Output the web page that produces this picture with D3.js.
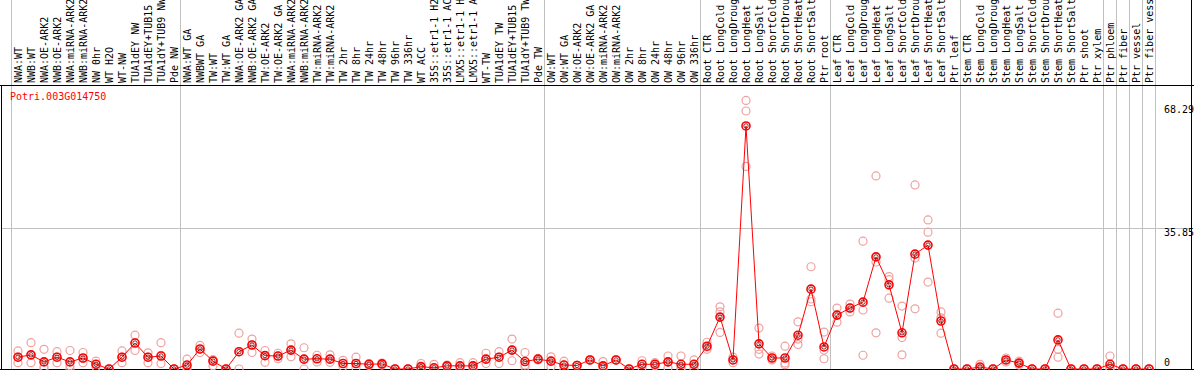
<!DOCTYPE html>
<html><head><meta charset="utf-8">
<script src="https://cdn.jsdelivr.net/npm/d3@7"></script>
<style>
body{margin:0;background:#fff}
svg{display:block}
text{font-family:"DejaVu Sans Mono",monospace;font-size:10px}
</style>
</head><body>
<svg id="chart" width="1194" height="370"></svg>
<script>
const categories = [
"NWA:WT","NWB:WT","NWA:OE-ARK2","NWB:OE-ARK2","NWA:miRNA-ARK2","NWB:miRNA-ARK2","NW 0hr","WT H2O","WT-NW","TUA1dEY NW","TUA1dEY+TUB15","TUA1dY+TUB9 NW","Pde NW",
"NWA:WT GA","NWBWT GA","TW:WT","TW:WT GA","NWA:OE-ARK2 GA","NWB:OE-ARK2 GA","TW:OE-ARK2","TW:OE-ARK2 GA","NWA:miRNA-ARK2","NWB:miRNA-ARK2","TW:miRNA-ARK2","TW:miRNA-ARK2","TW 2hr","TW 8hr","TW 24hr","TW 48hr","TW 96hr","TW 336hr","WT ACC","35S::etr1-1 H2","35S::etr1-1 AC","LMX5::etr1-1 H","LMX5::etr1-1 A","WT-TW","TUA1dEY TW","TUA1dEY+TUB15","TUA1dY+TUB9 TW","Pde TW",
"OW:WT","OW:WT GA","OW:OE-ARK2","OW:OE-ARK2 GA","OW:miRNA-ARK2","OW:miRNA-ARK2","OW 2hr","OW 8hr","OW 24hr","OW 48hr","OW 96hr","OW 336hr",
"Root CTR","Root LongCold","Root LongDroug","Root LongHeat","Root LongSalt","Root ShortCold","Root ShortDrou","Root ShortHeat","Root ShortSalt","Ptr root",
"Leaf CTR","Leaf LongCold","Leaf LongDroug","Leaf LongHeat","Leaf LongSalt","Leaf ShortCold","Leaf ShortDrou","Leaf ShortHeat","Leaf ShortSalt","Ptr leaf",
"Stem CTR","Stem LongCold","Stem LongDroug","Stem LongHeat","Stem LongSalt","Stem ShortCold","Stem ShortDrou","Stem ShortHeat","Stem ShortSalt","Ptr shoot","Ptr xylem",
"Ptr phloem","Ptr fiber","Ptr vessel","Ptr fiber vess"
];
const means = [
3.0,3.6,1.8,3.0,1.8,2.8,1.2,0,3.0,6.6,3.0,3.3,0,
1.0,5.1,2.0,0,4.4,6.1,3.4,3.3,4.8,2.5,2.6,2.5,1.4,1.4,1.2,1.3,0,0,0.6,0.3,0.8,0.8,0.8,2.5,3.0,4.8,1.9,2.5,
2.0,1.0,0.9,2.3,0.8,2.3,0,1.2,1.2,1.8,1.2,1.2,
5.8,13.2,2.3,61.8,6.4,2.8,2.8,8.6,20.3,5.6,
13.7,15.5,17.0,28.5,21.4,9.2,29.2,31.5,12.2,0,
0,0.5,0,2.3,1.5,0,0,7.4,0,0,0,
1.2,0,0,0
];
const rep1 = [
4.6,6.7,5.0,4.4,4.7,4.2,2.0,0,4.6,8.6,4.1,6.7,0,
2.5,6.0,2.3,0,9.1,7.6,4.7,4.0,6.4,5.4,3.5,3.6,2.2,3.0,1.4,1.5,0,0,1.4,1.2,1.0,1.6,1.6,4.0,4.4,7.6,4.2,2.7,
3.1,2.0,0.9,2.4,1.9,2.3,0,2.1,1.6,3.3,3.3,2.3,
6.8,15.8,3.0,68.29,10.4,3.3,5.8,12.0,26.0,9.4,
15.5,16.5,32.5,49.1,22.7,16.0,46.8,37.9,14.5,0,
0,1.2,0,2.8,2.0,0,0,14.2,0,0,0,
3.3,0,0,0
];
const rep2 = [
3.0,3.6,0.6,3.0,0.8,2.7,1.2,0,3.0,6.7,3.0,3.5,0,
0.5,5.0,2.3,0,4.4,6.1,3.4,3.3,4.8,2.5,2.6,2.5,1.4,1.4,1.2,1.3,0,0,0.5,0.3,0.8,0.8,0.8,2.5,3.0,4.8,1.0,2.5,
2.0,1.0,0.9,2.3,0.6,2.3,0,1.2,1.2,1.8,0.3,1.2,
5.6,14.5,2.3,65.6,5.0,2.8,1.5,7.6,17.8,4.8,
13.7,15.5,15.0,27.2,23.5,8.0,28.2,34.8,13.0,0,
0,0.3,0,2.3,1.5,0,0,5.0,0,0,0,
0.3,0,0,0
];
const rep3 = [
1.6,1.6,0,1.6,0,1.6,0.5,0,1.6,4.7,1.6,1.4,0,
0,4.2,0.8,0,0,4.2,1.7,2.6,3.1,0,1.8,1.7,0.6,0.3,0.9,1.0,0,0,0,0,0.6,0.1,0.2,1.4,1.4,2.1,0.5,2.3,
0.6,0,0.9,2.2,0,2.3,0,0.3,0.8,0.3,0,0.1,
5.0,9.3,1.6,51.5,3.8,2.3,1.1,6.2,17.1,2.6,
11.9,14.5,3.5,9.2,18.0,3.6,15.3,22.1,9.1,0,
0,0,0,1.8,1.0,0,0,3.0,0,0,0,
0,0,0,0
];
const groupEnds = [0,13,41,53,63,73,84,85,86,87,88];
const yTickValues = [0, 35.85];
const yMaxValue = 71.70;
const maxLabel = "68.29";
const geneId = "Potri.003G014750";

const svg = d3.select("#chart");
const W = 1194;
const plotTop = 85, plotBottom = 369;
const idx = categories.map((d,i)=>i);
const x = d3.scaleBand().domain(idx).range([11, 11 + 13*categories.length]).padding(0);
const cx = i => x(i) + x.bandwidth()/2 + 0.5;
const y = d3.scaleLinear().domain([0, yMaxValue]).range([plotBottom, plotBottom - 282]);

// group separators (full height)
svg.append("g").selectAll("line").data(groupEnds).join("line")
  .attr("x1", d => x(d) !== undefined ? x(d)+0.5 : x(categories.length-1)+x.bandwidth()+0.5)
  .attr("x2", d => x(d) !== undefined ? x(d)+0.5 : x(categories.length-1)+x.bandwidth()+0.5)
  .attr("y1", 0).attr("y2", plotBottom)
  .attr("stroke", "#c0c0c0").attr("stroke-width", 1);

// mid gridline
svg.append("line").attr("x1", 2).attr("x2", 1191)
  .attr("y1", Math.round(y(35.85))+0.5).attr("y2", Math.round(y(35.85))+0.5)
  .attr("stroke", "#c0c0c0");

// frame
svg.append("line").attr("x1",0).attr("x2",W).attr("y1",plotTop+0.5).attr("y2",plotTop+0.5).attr("stroke","#000");
svg.append("line").attr("x1",0).attr("x2",W).attr("y1",plotBottom+0.5).attr("y2",plotBottom+0.5).attr("stroke","#000");
svg.append("line").attr("x1",1.5).attr("x2",1.5).attr("y1",plotTop).attr("y2",plotBottom+1).attr("stroke","#000");
svg.append("line").attr("x1",1191.5).attr("x2",1191.5).attr("y1",0).attr("y2",plotBottom+1).attr("stroke","#000");

// category labels
svg.append("g").selectAll("text").data(categories).join("text")
  .attr("transform", (d,i) => `translate(${cx(i)+3.5},83) rotate(-90)`)
  .attr("fill", "#000")
  .text(d => d);

// y labels
svg.append("text").attr("x",1164).attr("y",113).text(maxLabel);
svg.append("text").attr("x",1164).attr("y",Math.round(y(35.85))+8).text("35.85");
svg.append("text").attr("x",1164).attr("y",366).text("0");

// gene id
svg.append("text").attr("x",10).attr("y",100).attr("fill","#ff0000").text(geneId);

// replicates
const reps = [rep1, rep2, rep3];
const g = svg.append("g");
reps.forEach(r => {
  g.append("g").selectAll("circle").data(r).join("circle")
    .attr("cx", (d,i) => cx(i)).attr("cy", d => y(d)).attr("r", 4)
    .attr("fill", "none").attr("stroke", "#f0a0a0").attr("stroke-width", 1.2);
});

// mean line
svg.append("path").datum(means)
  .attr("d", d3.line().x((d,i)=>cx(i)).y(d=>y(d)))
  .attr("fill","none").attr("stroke","#ff0000").attr("stroke-width",1);

svg.append("g").selectAll("circle").data(means).join("circle")
  .attr("cx", (d,i) => cx(i)).attr("cy", d => y(d)).attr("r", 4)
  .attr("fill", "none").attr("stroke", "#ff0000").attr("stroke-width", 1.6);
svg.append("g").selectAll("circle").data(means).join("circle")
  .attr("cx", (d,i) => cx(i)).attr("cy", d => y(d)).attr("r", 2.2)
  .attr("fill", "none").attr("stroke", "#600000").attr("stroke-width", 0.8);
</script>
</body></html>
